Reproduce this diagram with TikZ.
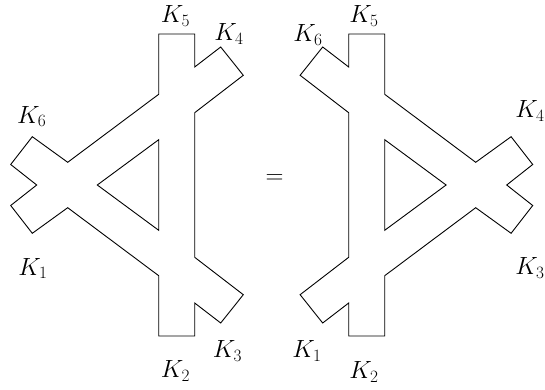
\documentclass[tikz,border=0pt]{standalone}
\begin{document}
\begin{tikzpicture}[x=1pt,y=-1pt,
  outline/.style={line width=0.9pt, line join=miter},
  lbl/.style={inner sep=0pt, font=\fontsize{25}{30}\selectfont}]
\useasboundingbox (0,0) rectangle (545,390);
\def\shape{%
  \draw[outline] (158.7,34) -- (158.7,94.3) -- (67.7,162.3) -- (32.3,136.7) -- (10.7,164.5) -- (36.7,185) -- (10.7,205.5) -- (32.3,233.3) -- (67.7,207.7) -- (158.7,275.7) -- (158.7,336) -- (194.7,336) -- (194.7,303) -- (220.7,323) -- (243.3,294.7) -- (194.7,257.3) -- (194.7,112.7) -- (243.3,75.3) -- (220.7,47) -- (194.7,67) -- (194.7,34) -- cycle;
  \draw[outline] (158.7,139.7) -- (97.3,185) -- (158.7,230.3) -- cycle;}
\begin{scope}
  \shape
\end{scope}
\begin{scope}[xshift=543.4pt, xscale=-1]
  \shape
\end{scope}
% left labels
\node[lbl] (l5) at (175.5,16) {$K_5$};
\node[lbl] (l4) at (229,34) {$K_4$};
\node[lbl] (l6) at (31.7,116.5) {$K_6$};
\node[lbl] (l1) at (33,268.5) {$K_1$};
\node[lbl] (l2) at (175.5,371) {$K_2$};
\node[lbl] (l3) at (227.5,351) {$K_3$};
% equals
\node[lbl] (eq) at (274.5,179) {$=$};
% right labels
\node[lbl] (r5) at (364,16) {$K_5$};
\node[lbl] (r6) at (308,35) {$K_6$};
\node[lbl] (r4) at (530,111) {$K_4$};
\node[lbl] (r3) at (530,268) {$K_3$};
\node[lbl] (r1) at (307,351) {$K_1$};
\node[lbl] (r2) at (364,372) {$K_2$};
\end{tikzpicture}
\end{document}
